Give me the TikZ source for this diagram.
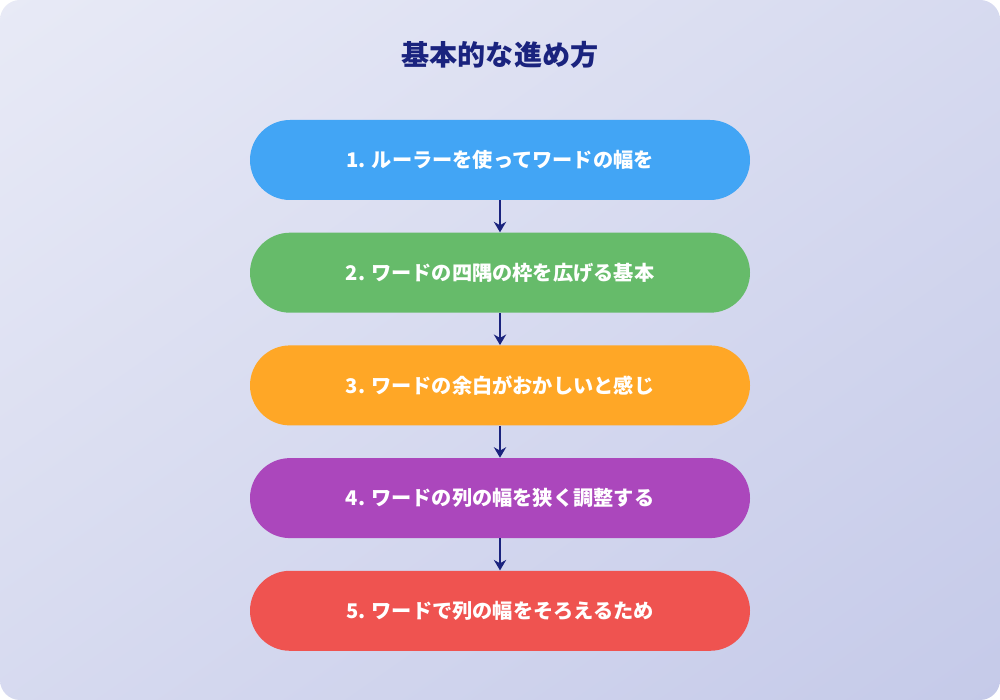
\documentclass[tikz,border=0pt]{standalone}
\usepackage{fontspec}
\setmainfont{Noto Sans CJK JP}
\usetikzlibrary{positioning,arrows.meta,shadings}
\definecolor{navy}{HTML}{1A237E}
\definecolor{bgA}{HTML}{E8EAF6}
\definecolor{bgB}{HTML}{C5CAE9}
\definecolor{stepA}{HTML}{42A5F5}
\definecolor{stepB}{HTML}{66BB6A}
\definecolor{stepC}{HTML}{FFA726}
\definecolor{stepD}{HTML}{AB47BC}
\definecolor{stepE}{HTML}{EF5350}
\tikzset{
  stepbox/.style={rounded corners=0.8cm, minimum width=10cm, minimum height=1.6cm,
    text=white, font=\bfseries\fontsize{11.5pt}{14pt}\selectfont, inner sep=0pt},
  link/.style={draw=navy, line width=1.6pt, -{Stealth[length=6pt,width=7pt]}}
}
\begin{document}
\begin{tikzpicture}
            % background
            \useasboundingbox (0,0) rectangle (20,14);
            \fill[white] (0,0) rectangle (20,14);
            \begin{scope}
              \clip[rounded corners=0.4cm] (0,0) rectangle (20,14);
              \shade[upper left=bgA, lower right=bgB, upper right={bgA!50!bgB}, lower left={bgA!50!bgB}] (0,0) rectangle (20,14);
            \end{scope}
            % title
            \node [text=navy, font=\bfseries\fontsize{16pt}{18pt}\selectfont] (title) at (10,12.9) {基本的な進め方};
            % steps
            \node [stepbox, fill=stepA] (s1) at (10,10.8) {1. ルーラーを使ってワードの幅を};
            \node [stepbox, fill=stepB, below=0.64cm of s1] (s2) {2. ワードの四隅の枠を広げる基本};
            \node [stepbox, fill=stepC, below=0.64cm of s2] (s3) {3. ワードの余白がおかしいと感じ};
            \node [stepbox, fill=stepD, below=0.64cm of s3] (s4) {4. ワードの列の幅を狭く調整する};
            \node [stepbox, fill=stepE, below=0.64cm of s4] (s5) {5. ワードで列の幅をそろえるため};
            % arrows
            \foreach \a/\b in {s1/s2,s2/s3,s3/s4,s4/s5}
              \draw [link] (\a) -- (\b);
\end{tikzpicture}
\end{document}
